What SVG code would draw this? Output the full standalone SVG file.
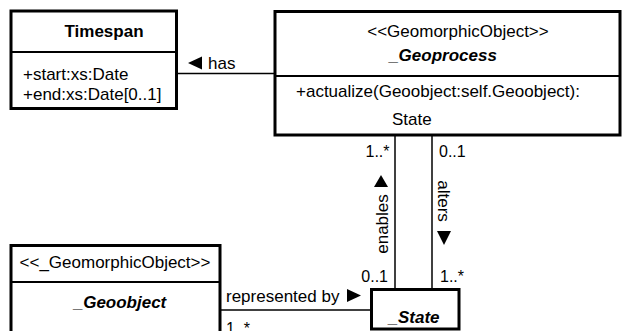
<svg xmlns="http://www.w3.org/2000/svg" width="622" height="331" viewBox="0 0 622 331">
  <style>
    text { font-family: "Liberation Sans", Arial, sans-serif; font-size: 17px; fill: #000; }
    .box { fill: #fff; stroke: #000; stroke-width: 3; }
    .div { stroke: #000; stroke-width: 2.2; }
    .name { font-weight: bold; }
    .abstract { font-weight: bold; font-style: italic; }
    .mult { font-size: 16px; }
    .link { stroke: #000; stroke-width: 1.5; fill: none; }
    .dir { fill: #000; stroke: none; }
  </style>
  <rect width="622" height="331" fill="#fff"/>

  <!-- associations -->
  <g id="connectors">
    <line class="link" x1="176" y1="73.5" x2="275" y2="73.5"/>
    <polygon class="dir" points="188,63 202,56.5 202,69.5"/>
    <text x="208" y="69">has</text>

    <line class="link" x1="395" y1="135" x2="395" y2="290"/>
    <text class="mult" x="389.5" y="157" text-anchor="end">1..*</text>
    <polygon class="dir" points="381,175 374,187 388,187"/>
    <text transform="translate(387.5,224) rotate(-90)" text-anchor="middle">enables</text>
    <text class="mult" x="388" y="282" text-anchor="end">0..1</text>

    <line class="link" x1="432" y1="135" x2="432" y2="290"/>
    <text class="mult" x="439" y="157">0..1</text>
    <text transform="translate(437.5,201) rotate(90)" text-anchor="middle">alters</text>
    <polygon class="dir" points="437,231 451,231 444,245"/>
    <text class="mult" x="440" y="282">1..*</text>

    <line class="link" x1="220" y1="310" x2="372" y2="310"/>
    <text x="226" y="302">represented by</text>
    <polygon class="dir" points="347,289 347,302 361,295.5"/>
    <text class="mult" x="226" y="334">1..*</text>
  </g>

  <!-- Timespan -->
  <g id="timespan">
    <rect class="box" x="11" y="11" width="165.5" height="97.5"/>
    <line class="div" x1="11" y1="52" x2="176.5" y2="52"/>
    <text class="name" x="104" y="37" text-anchor="middle">Timespan</text>
    <text x="23" y="80">+start:xs:Date</text>
    <text x="23" y="99.5">+end:xs:Date[0..1]</text>
  </g>

  <!-- _Geoprocess -->
  <g id="geoprocess">
    <rect class="box" x="275" y="11.5" width="345" height="123.5"/>
    <line class="div" x1="275" y1="76" x2="620" y2="76"/>
    <text x="458" y="36.5" text-anchor="middle">&lt;&lt;GeomorphicObject&gt;&gt;</text>
    <text class="abstract" x="443" y="60.5" text-anchor="middle">_Geoprocess</text>
    <text x="296" y="97">+actualize(Geoobject:self.Geoobject):</text>
    <text x="392" y="125">State</text>
  </g>

  <!-- _Geoobject -->
  <g id="geoobject">
    <rect class="box" x="11" y="245.5" width="209" height="100"/>
    <line class="div" x1="11" y1="282" x2="220" y2="282"/>
    <text x="115" y="268" text-anchor="middle">&lt;&lt;_GeomorphicObject&gt;&gt;</text>
    <text class="abstract" x="120" y="308" text-anchor="middle">_Geoobject</text>
  </g>

  <!-- _State -->
  <g id="state">
    <rect class="box" x="371.5" y="289.5" width="87.5" height="39.5"/>
    <text class="abstract" x="414" y="323" text-anchor="middle">_State</text>
  </g>
</svg>
